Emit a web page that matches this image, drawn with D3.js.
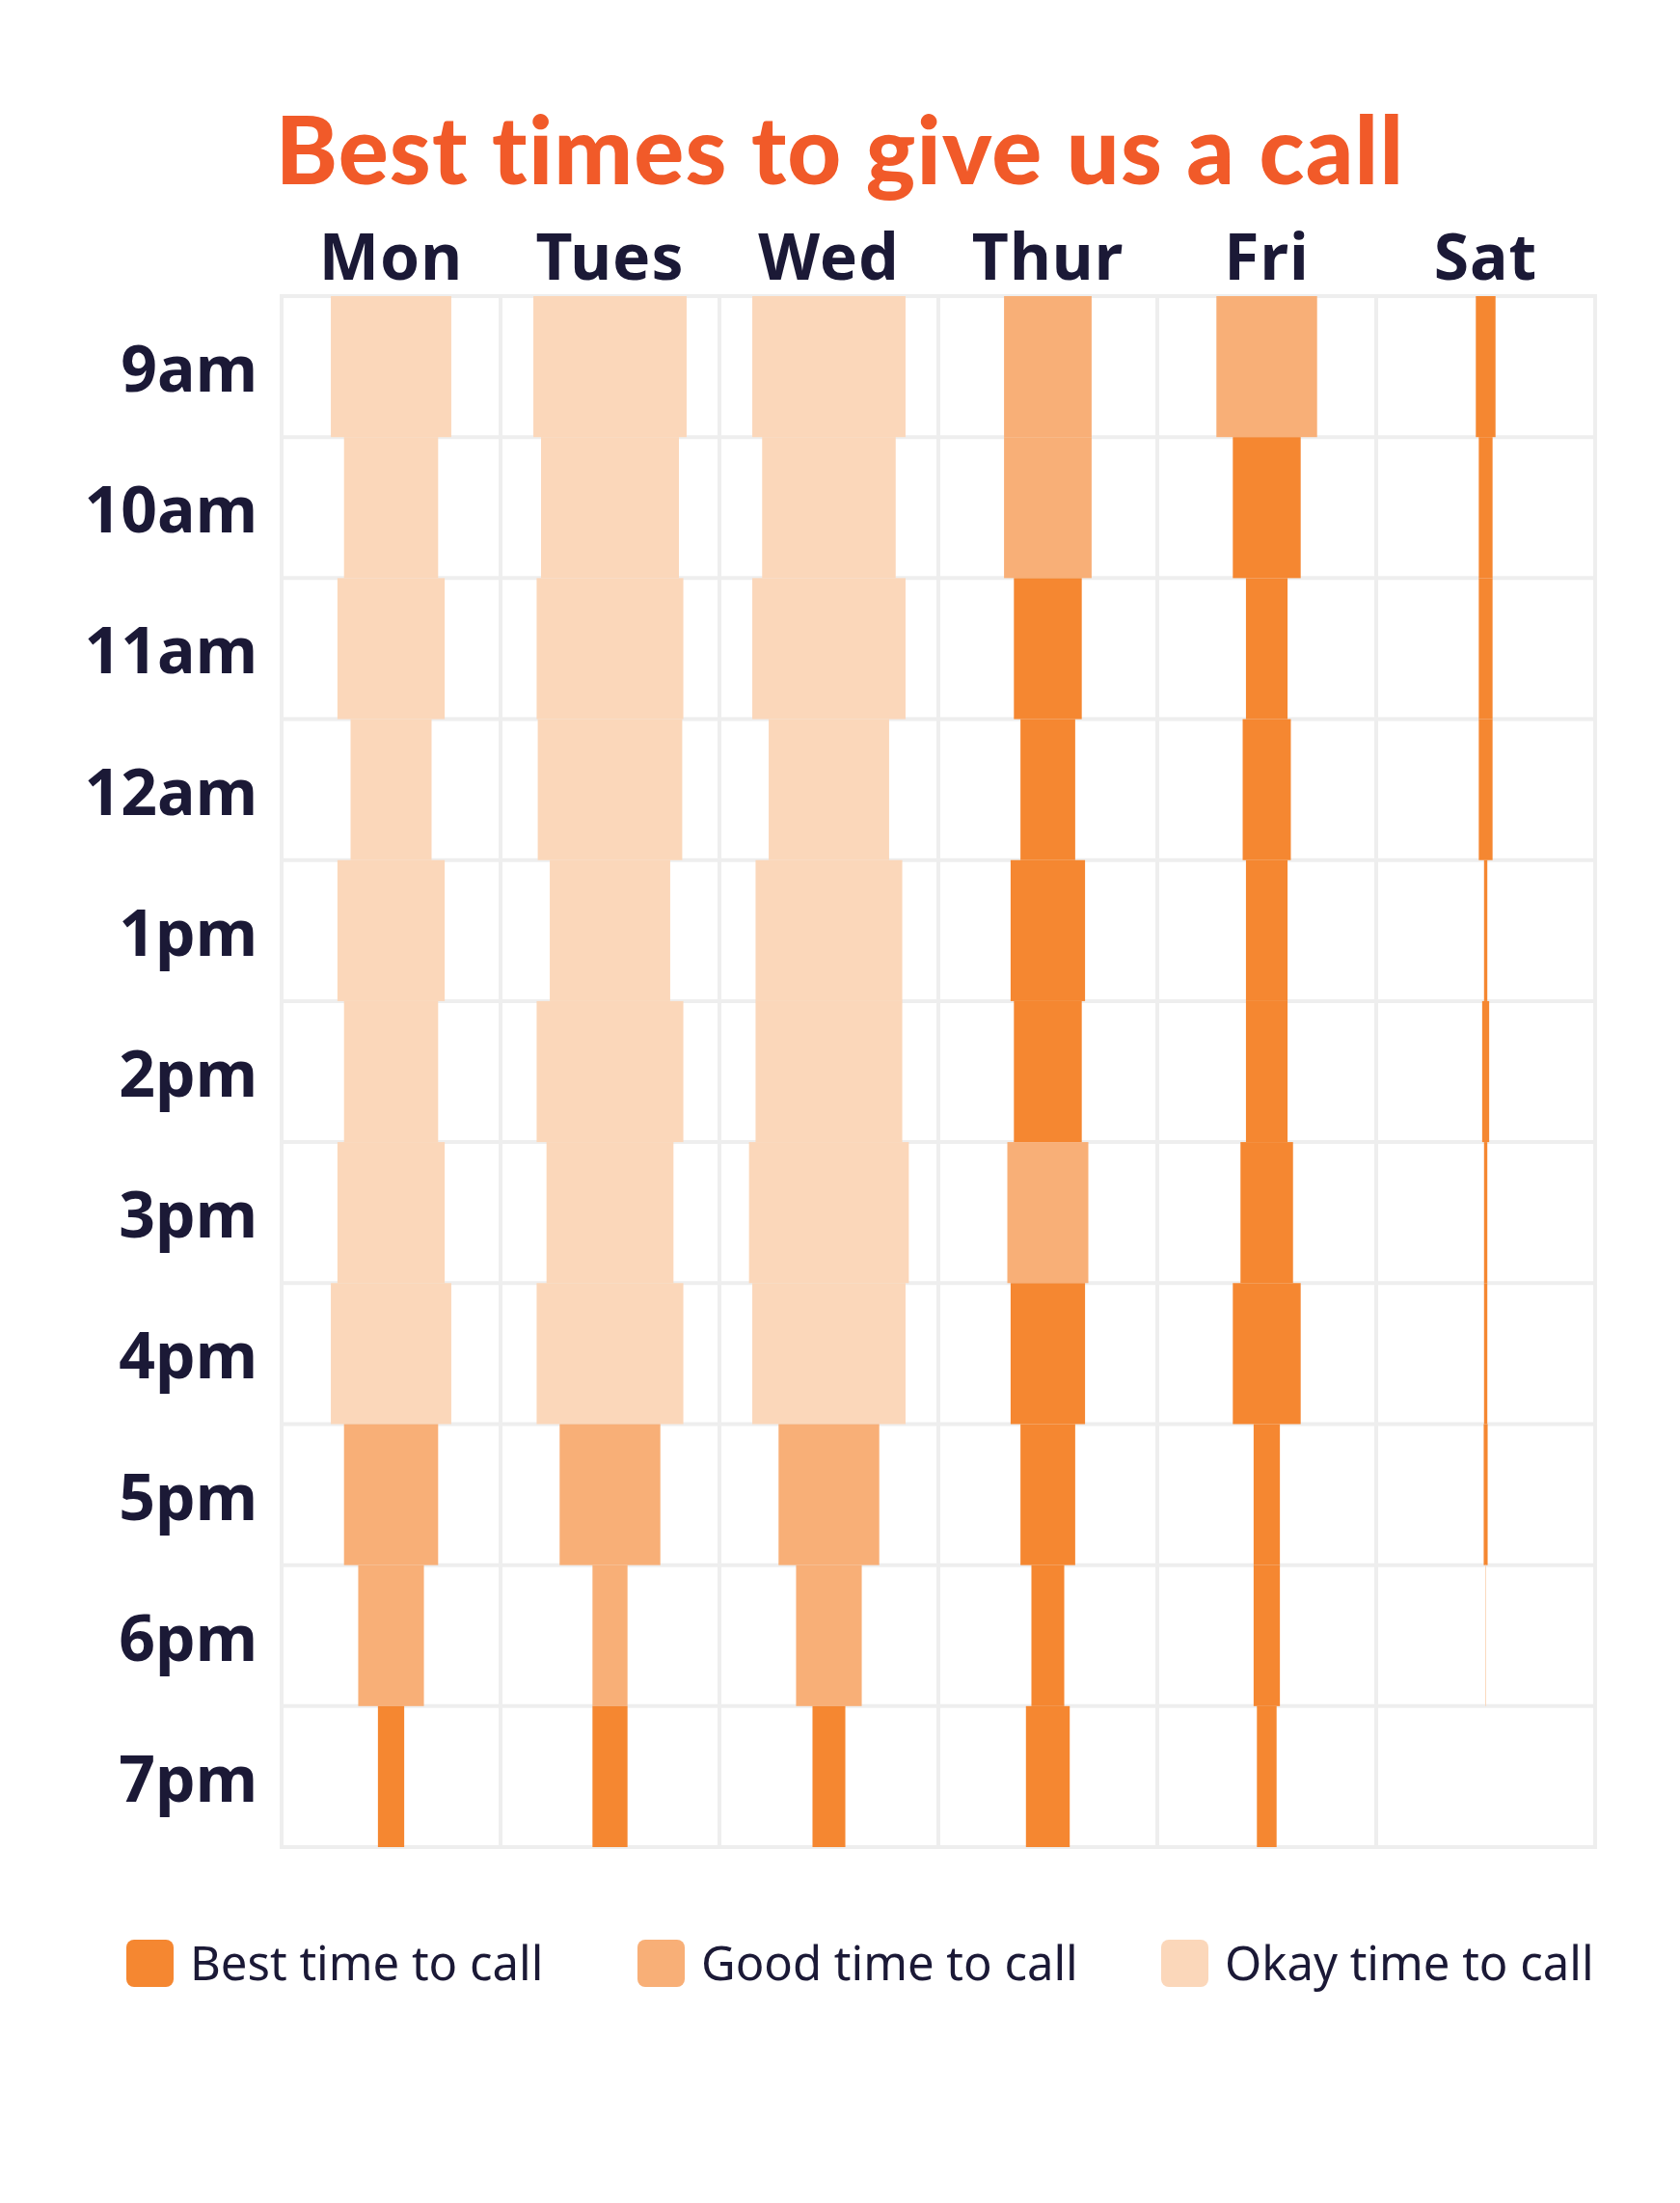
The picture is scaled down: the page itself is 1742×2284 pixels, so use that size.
<!DOCTYPE html>
<html>
<head>
<meta charset="utf-8">
<script src="https://cdn.jsdelivr.net/npm/d3@7"></script>
<style>
  html, body { margin: 0; padding: 0; background: #ffffff; }
  svg { display: block; }
</style>
</head>
<body>
<div id="chart"></div>
<script>
// days across the top, hours down the side
const days = ["Mon", "Tues", "Wed", "Thur", "Fri", "Sat"];
const hours = ["9am", "10am", "11am", "12am", "1pm", "2pm", "3pm", "4pm", "5pm", "6pm", "7pm"];

// bar width per hour, as percent of the day column
const monValues  = [55, 43, 49, 37, 49, 43, 49, 55, 43, 30, 12];
const tuesValues = [70, 63, 67, 66, 55, 67, 58, 67, 46, 16, 16];
const wedValues  = [70, 61, 70, 55, 67, 67, 73, 70, 46, 30, 15];
const thurValues = [40, 40, 31, 25, 34, 31, 37, 34, 25, 15, 20];
const friValues  = [46, 31, 19, 22, 19, 19, 24, 31, 12, 12, 9];
const satValues  = [9, 6.3, 6.3, 6.3, 1.5, 3.2, 1.5, 1.5, 1.8, 0.4, 0];

// how good each slot is: best / good / okay
const monLevels  = ["okay", "okay", "okay", "okay", "okay", "okay", "okay", "okay", "good", "good", "best"];
const tuesLevels = ["okay", "okay", "okay", "okay", "okay", "okay", "okay", "okay", "good", "good", "best"];
const wedLevels  = ["okay", "okay", "okay", "okay", "okay", "okay", "okay", "okay", "good", "good", "best"];
const thurLevels = ["good", "good", "best", "best", "best", "best", "good", "best", "best", "best", "best"];
const friLevels  = ["good", "best", "best", "best", "best", "best", "best", "best", "best", "best", "best"];
const satLevels  = ["best", "best", "best", "best", "best", "best", "best", "best", "best", "okay", "best"];

const levels = ["best", "good", "okay"];
const levelLabels = ["Best time to call", "Good time to call", "Okay time to call"];

const valuesByDay = [monValues, tuesValues, wedValues, thurValues, friValues, satValues];
const levelsByDay = [monLevels, tuesLevels, wedLevels, thurLevels, friLevels, satLevels];

const cells = [];
days.forEach((day, i) => {
  hours.forEach((hour, j) => {
    cells.push({ day: day, hour: hour, value: valuesByDay[i][j], level: levelsByDay[i][j] });
  });
});

const width = 1742, height = 2284;
const textColor = "#1b1936";

const svg = d3.select("#chart").append("svg")
  .attr("width", width)
  .attr("height", height);

const x = d3.scaleBand().domain(days).range([292, 1654]);
const y = d3.scaleBand().domain(hours).range([307, 1915]);
const w = d3.scaleLinear().domain([0, 100]).range([0, x.bandwidth()]);
const color = d3.scaleOrdinal().domain(levels).range(["#f58731", "#f8af77", "#fbd7ba"]);

// title
const titleText = "Best times to give us a call";
const title = svg.append("text")
  .attr("x", width / 2)
  .attr("y", 191)
  .attr("text-anchor", "middle")
  .attr("font-family", "Lato, 'Noto Sans', sans-serif")
  .attr("font-weight", 900)
  .attr("font-size", 97)
  .attr("fill", "#f15a29")
  .text(titleText);

// squeeze title to the width it has in the picture
const titleLen = title.node().getComputedTextLength();
title.attr("letter-spacing", (1171 - titleLen) / (titleText.length - 1));

// grid
const grid = svg.append("g").attr("stroke", "#eeeeee").attr("stroke-width", 4);
const xEdges = days.map(d => x(d)).concat([x.range()[1]]);
const yEdges = hours.map(h => y(h)).concat([y.range()[1]]);

grid.selectAll(".vline")
  .data(xEdges)
  .enter()
  .append("line")
  .attr("x1", d => d).attr("x2", d => d)
  .attr("y1", y.range()[0]).attr("y2", y.range()[1]);

grid.selectAll(".hline")
  .data(yEdges)
  .enter()
  .append("line")
  .attr("x1", x.range()[0] - 2).attr("x2", x.range()[1] + 2)
  .attr("y1", d => d).attr("y2", d => d);

// bars
svg.append("g").selectAll("rect")
  .data(cells.filter(d => d.value > 0))
  .enter()
  .append("rect")
  .attr("x", d => x(d.day) + x.bandwidth() / 2 - w(d.value) / 2)
  .attr("y", d => y(d.hour))
  .attr("width", d => w(d.value))
  .attr("height", y.bandwidth())
  .attr("fill", d => color(d.level));

// day labels
svg.append("g").selectAll("text")
  .data(days)
  .enter()
  .append("text")
  .attr("x", d => x(d) + x.bandwidth() / 2)
  .attr("y", 290)
  .attr("text-anchor", "middle")
  .attr("font-family", "'Noto Sans', sans-serif")
  .attr("font-weight", 700)
  .attr("font-size", 66)
  .attr("letter-spacing", 1)
  .attr("fill", textColor)
  .text(d => d);

// hour labels
svg.append("g").selectAll("text")
  .data(hours)
  .enter()
  .append("text")
  .attr("x", 267)
  .attr("y", d => y(d) + y.bandwidth() / 2 + 26)
  .attr("text-anchor", "end")
  .attr("font-family", "'Noto Sans', sans-serif")
  .attr("font-weight", 700)
  .attr("font-size", 66)
  .attr("fill", textColor)
  .text(d => d);

// legend
const legendX = [131, 661, 1204];
const legend = svg.append("g").selectAll("g")
  .data(levels)
  .enter()
  .append("g")
  .attr("transform", (d, i) => `translate(${legendX[i]},2011)`);

legend.append("rect")
  .attr("width", 49)
  .attr("height", 49)
  .attr("rx", 8)
  .attr("fill", d => color(d));

legend.append("text")
  .attr("x", 66)
  .attr("y", 42)
  .attr("font-family", "'Noto Sans', sans-serif")
  .attr("font-size", 49)
  .attr("fill", textColor)
  .text((d, i) => levelLabels[i]);
</script>
</body>
</html>
